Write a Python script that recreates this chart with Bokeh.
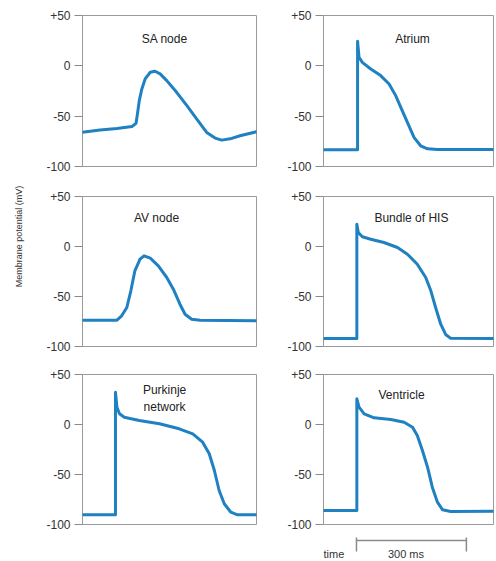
import math
from bokeh.plotting import figure
from bokeh.layouts import row, column, Spacer
from bokeh.models import Range1d, FixedTicker
from bokeh.core.properties import value
from bokeh.embed import file_html
from bokeh.resources import INLINE

# ---------------- data (time in ms, membrane potential in mV) ----------------
sa_t = [0, 48, 94, 135, 146, 150, 155, 162, 171, 185, 198, 212, 230, 257, 285, 312, 339, 362, 380, 403, 430, 475]
sa_v = [-66, -63.8, -62.2, -60.2, -57.2, -47.9, -34.6, -23, -13, -6.4, -5.4, -8, -14.7, -26.3, -39.6, -52.9, -66.2, -71.8, -73.8, -72.5, -69.5, -65.5]

atrium_t = [0, 93, 93, 97, 106, 129, 156, 179, 197, 211, 229, 247, 265, 284, 311, 464]
atrium_v = [-83.4, -83.4, 24.4, 8.5, 3.5, -3.1, -9.7, -18, -29.6, -41.3, -56.2, -71.1, -79.4, -82.4, -83, -83]

av_t = [0, 94, 107, 121, 132, 143, 157, 168, 185, 207, 230, 248, 266, 280, 298, 321, 475]
av_v = [-73.7, -73.7, -69.3, -61, -44.3, -24.3, -12.7, -9.3, -11.7, -19.3, -31, -42.7, -57.7, -67.7, -72.7, -73.7, -74.3]

his_t = [0, 91, 91, 95, 106, 129, 165, 202, 229, 256, 279, 293, 306, 320, 334, 347, 464]
his_v = [-92, -92, 22.3, 14, 9.7, 7.3, 4, -1, -7.7, -17.7, -31, -44.3, -61, -77.7, -88.3, -91.7, -92]

purk_t = [0, 90, 90, 94, 101, 114, 155, 210, 264, 301, 328, 346, 360, 373, 387, 405, 423, 475]
purk_v = [-90.3, -90.3, 32.3, 17.3, 10.7, 7.3, 4, 0.7, -4.3, -9.3, -17.7, -29.3, -46, -66, -79.3, -87.7, -90.3, -90.3]

vent_t = [0, 91, 91, 97, 111, 138, 184, 220, 243, 256, 270, 284, 297, 311, 325, 347, 464]
vent_v = [-86, -86, 25.7, 17.3, 10.7, 6.7, 5, 2.3, -2.7, -11, -26, -42.7, -62.7, -77.7, -85.3, -87, -86.7]

titles = ["SA  node", "Atrium", "AV node", "Bundle of HIS", "Purkinje\nnetwork", "Ventricle"]
y_ticks = [-100, -50, 0, 50]
y_tick_labels = {-100: "-100", -50: "-50", 0: "0", 50: "+50"}
scale_bar_ms = [90, 390]
scale_label = "300 ms"
y_label = "Membrane potential (mV)"

FONT = "Liberation Sans"
LINE = "#1f80c2"

def panel(t, v, title, tx, ty, xmax, left, fw, top, fh, bottom, right):
    p = figure(frame_width=fw, frame_height=fh, min_border_left=left, min_border_right=right,
               min_border_top=top, min_border_bottom=bottom,
               x_range=Range1d(0, xmax), y_range=Range1d(-100, 50),
               x_axis_location=None, output_backend="svg", toolbar_location=None)
    p.xgrid.visible = False
    p.ygrid.visible = False
    p.outline_line_color = "#9a9a9a"
    p.outline_line_width = 1
    ax = p.yaxis[0]
    ax.ticker = FixedTicker(ticks=y_ticks)
    ax.major_label_overrides = y_tick_labels
    ax.axis_line_color = None
    ax.major_tick_in = 0
    ax.major_tick_out = 8
    ax.major_tick_line_color = "#8a8a8a"
    ax.minor_tick_line_color = None
    ax.major_label_standoff = 4
    ax.major_label_text_font = FONT
    ax.major_label_text_font_size = "12px"
    ax.major_label_text_color = "#333333"
    p.line(t, v, line_color=LINE, line_width=3, line_join="round", line_cap="round")
    p.text(x=[tx], y=[ty], text=[title], text_font=value(FONT), text_font_size="12px",
           text_color="#222222", text_align="center", text_baseline="middle",
           text_line_height=1.2)
    return p

L_LEFT, L_W, L_RIGHT, L_X = 54, 174, 22, 475
R_LEFT, R_W, R_RIGHT, R_X = 45, 170, 2, 464

p1 = panel(sa_t, sa_v, titles[0], 229, 27, L_X, L_LEFT, L_W, 15, 151, 15, L_RIGHT)
p2 = panel(atrium_t, atrium_v, titles[1], 243, 27, R_X, R_LEFT, R_W, 15, 151, 15, R_RIGHT)
p3 = panel(av_t, av_v, titles[2], 202, 29, L_X, L_LEFT, L_W, 15, 150, 14, L_RIGHT)
p4 = panel(his_t, his_v, titles[3], 240, 29, R_X, R_LEFT, R_W, 15, 150, 14, R_RIGHT)
p5 = panel(purk_t, purk_v, titles[4], 224, 26, L_X, L_LEFT, L_W, 14, 150, 8, L_RIGHT)
p6 = panel(vent_t, vent_v, titles[5], 213, 30, R_X, R_LEFT, R_W, 14, 150, 8, R_RIGHT)

# time scale bar (shares the x scale of the panel above)
SH = 29
ps = figure(frame_width=R_W, frame_height=SH, min_border_left=R_LEFT, min_border_right=R_RIGHT,
            min_border_top=0, min_border_bottom=0, x_range=p6.x_range, y_range=Range1d(SH, 0),
            x_axis_location=None, y_axis_location=None, output_backend="svg", toolbar_location=None)
ps.xgrid.visible = False
ps.ygrid.visible = False
ps.outline_line_color = None
ps.segment(x0=[scale_bar_ms[0]], y0=[8], x1=[scale_bar_ms[1]], y1=[8], line_color="#8a8a8a", line_width=1.5)
ps.segment(x0=scale_bar_ms, y0=[5, 5], x1=scale_bar_ms, y1=[19, 19], line_color="#8a8a8a", line_width=1.5)
ps.text(x=[0], y=[21], text=["time"], text_font=value(FONT), text_font_size="11px",
        text_color="#333333", text_align="left", text_baseline="middle")
ps.text(x=[(scale_bar_ms[0] + scale_bar_ms[1]) / 2 - 15], y=[21], text=[scale_label], text_font=value(FONT),
        text_font_size="11px", text_color="#333333", text_align="center", text_baseline="middle")

# y-axis label column
TOTAL_H = 181 + 179 + 172 + SH
pl = figure(frame_width=28, frame_height=TOTAL_H, min_border=0, x_range=Range1d(0, 28),
            y_range=Range1d(TOTAL_H, 0), x_axis_location=None, y_axis_location=None,
            output_backend="svg", toolbar_location=None)
pl.xgrid.visible = False
pl.ygrid.visible = False
pl.outline_line_color = None
pl.text(x=[18], y=[236], text=[y_label], angle=math.pi / 2, text_font=value(FONT),
        text_font_size="9px", text_color="#333333", text_align="center", text_baseline="middle")

grid = column(row(p1, p2), row(p3, p4), row(p5, p6),
              row(Spacer(width=L_LEFT + L_W + L_RIGHT, height=SH), ps))
layout = row(pl, grid)

open("out.html", "w").write(file_html(layout, INLINE))
